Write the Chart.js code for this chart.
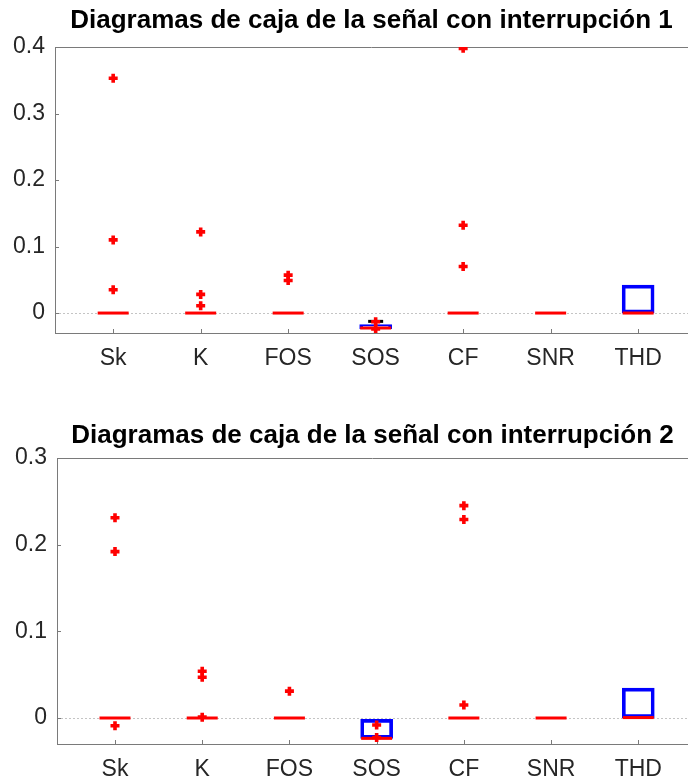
<!DOCTYPE html>
<html>
<head>
<meta charset="utf-8">
<script src="https://cdn.jsdelivr.net/npm/chart.js@4"></script>
<style>
  html, body { margin: 0; padding: 0; background: #fff; overflow: hidden; }
  .panel { position: absolute; left: 0; width: 688px; }
</style>
</head>
<body>
<div class="panel" style="top:0; height:385px;"><canvas id="box1" width="688" height="385"></canvas></div>
<div class="panel" style="top:395px; height:383px;"><canvas id="box2" width="688" height="383"></canvas></div>
<script>
// --- Boxplot data ---
const categories = ['Sk', 'K', 'FOS', 'SOS', 'CF', 'SNR', 'THD'];

// Señal con interrupción 1
const q1Int1 = [0, 0, 0, -0.0235, 0, 0, 0];
const q3Int1 = [0, 0, 0, -0.0175, 0, 0, 0.042];
const medianInt1 = [0, 0, 0, -0.0225, 0, 0, 0];
const capInt1 = [null, null, null, -0.0125, null, null, null];
const outliersInt1 = [
    [0.353, 0.110, 0.035],
    [0.122, 0.028, 0.011],
    [0.057, 0.049],
    [-0.013, -0.024],
    [0.398, 0.132, 0.070],
    [],
    []
];
const yTicksInt1 = [0, 0.1, 0.2, 0.3, 0.4];

// Señal con interrupción 2
const q1Int2 = [0, 0, 0, -0.0235, 0, 0, 0.0005];
const q3Int2 = [0, 0, 0, -0.0015, 0, 0, 0.0345];
const medianInt2 = [0, 0, 0, -0.0235, 0, 0, 0.0005];
const capInt2 = [null, null, null, null, null, null, null];
const outliersInt2 = [
    [0.231, 0.192, -0.009],
    [0.054, 0.047, 0.001],
    [0.031],
    [-0.008, -0.0225],
    [0.245, 0.229, 0.015],
    [],
    []
];
const yTicksInt2 = [0, 0.1, 0.2, 0.3];

const FONT = "'Liberation Sans', Arial, Helvetica, sans-serif";
const AXIS_COLOR = '#7a7a7a';

// Draws the top frame line, the dotted zero line and the inner tick marks
const framePlugin = {
    id: 'frame',
    beforeDatasetsDraw(chart) {
        const { ctx, chartArea: a, scales: { x, y } } = chart;
        ctx.save();
        // dotted line at y = 0
        const y0 = Math.round(y.getPixelForValue(0)) + 0.5;
        ctx.strokeStyle = '#c4c4c4';
        ctx.lineWidth = 1;
        ctx.setLineDash([2, 2]);
        ctx.beginPath();
        ctx.moveTo(a.left, y0);
        ctx.lineTo(a.right, y0);
        ctx.stroke();
        ctx.setLineDash([]);
        // top border
        ctx.strokeStyle = AXIS_COLOR;
        ctx.beginPath();
        ctx.moveTo(a.left, a.top + 0.5);
        ctx.lineTo(a.right, a.top + 0.5);
        ctx.stroke();
        // inner ticks
        ctx.beginPath();
        y.ticks.forEach(t => {
            const py = Math.round(y.getPixelForValue(t.value)) + 0.5;
            ctx.moveTo(a.left, py);
            ctx.lineTo(a.left + 4, py);
        });
        x.ticks.forEach(t => {
            const px = Math.round(x.getPixelForValue(t.value)) + 0.5;
            ctx.moveTo(px, a.bottom);
            ctx.lineTo(px, a.bottom - 4);
        });
        ctx.stroke();
        ctx.restore();
    }
};

function makeBoxplot(canvasId, opts) {
    const idx = categories.map((c, i) => i + 1);

    const boxData = idx.map((xv, i) => ({ x: xv, y: [opts.q1[i], opts.q3[i]] }));
    const medData = idx.map((xv, i) => ({ x: xv, y: opts.median[i] }));
    const capData = idx.map((xv, i) => ({ x: xv, y: opts.caps[i] })).filter(p => p.y !== null);
    const outData = [];
    opts.outliers.forEach((vals, i) => vals.forEach(v => outData.push({ x: i + 1, y: v })));

    return new Chart(document.getElementById(canvasId), {
        type: 'bar',
        data: {
            datasets: [
                {
                    type: 'scatter',
                    data: outData,
                    pointStyle: 'cross',
                    radius: 4.5,
                    borderWidth: 3.6,
                    borderColor: '#ff0000',
                    backgroundColor: '#ff0000',
                    order: 0
                },
                {
                    type: 'scatter',
                    data: medData,
                    pointStyle: 'line',
                    radius: 15.5,
                    borderWidth: 3,
                    borderColor: '#ff0000',
                    order: 1
                },
                {
                    type: 'scatter',
                    data: capData,
                    pointStyle: 'line',
                    radius: 7.5,
                    borderWidth: 3,
                    borderColor: '#000000',
                    order: 2
                },
                {
                    type: 'bar',
                    data: boxData,
                    backgroundColor: 'rgba(0,0,0,0)',
                    borderColor: '#0000ff',
                    borderWidth: 3,
                    borderSkipped: false,
                    barThickness: 32,
                    order: 3
                }
            ]
        },
        options: {
            responsive: false,
            animation: false,
            events: [],
            layout: { padding: 0, autoPadding: false },
            plugins: {
                legend: { display: false },
                tooltip: { enabled: false },
                title: {
                    display: true,
                    text: opts.title,
                    fullSize: false,
                    color: '#000',
                    font: { family: FONT, size: 26, weight: 'bold', lineHeight: 1.2 },
                    padding: opts.titlePadding
                }
            },
            scales: {
                x: {
                    type: 'linear',
                    offset: false,
                    min: 0.335,
                    max: 7.57,
                    afterBuildTicks: s => { s.ticks = idx.map(v => ({ value: v })); },
                    afterFit: s => {
                        s.height = opts.xAxisHeight;
                        s.paddingLeft = 0;
                        s.paddingRight = 0;
                    },
                    grid: { display: false, drawTicks: false, offset: false },
                    border: { display: true, color: AXIS_COLOR, width: 1 },
                    ticks: {
                        callback: v => categories[v - 1],
                        color: '#262626',
                        font: { family: FONT, size: 23 },
                        padding: 12,
                        maxRotation: 0,
                        autoSkip: false
                    }
                },
                y: {
                    type: 'linear',
                    min: -0.03,
                    max: opts.yTicks[opts.yTicks.length - 1],
                    afterBuildTicks: s => { s.ticks = opts.yTicks.map(v => ({ value: v })); },
                    afterFit: s => { s.width = opts.yAxisWidth; },
                    grid: { display: false, drawTicks: false },
                    border: { display: true, color: AXIS_COLOR, width: 1 },
                    ticks: {
                        callback: v => (v === 0 ? '0' : v.toFixed(1)),
                        color: '#262626',
                        font: { family: FONT, size: 23 },
                        padding: 10
                    }
                }
            }
        },
        plugins: [framePlugin]
    });
}

makeBoxplot('box1', {
    title: 'Diagramas de caja de la señal con interrupción 1',
    q1: q1Int1, q3: q3Int1, median: medianInt1, caps: capInt1, outliers: outliersInt1,
    yTicks: yTicksInt1,
    titlePadding: { top: 5.4, bottom: 10.4 },
    yAxisWidth: 55,
    xAxisHeight: 385 - 333
});

makeBoxplot('box2', {
    title: 'Diagramas de caja de la señal con interrupción 2',
    q1: q1Int2, q3: q3Int2, median: medianInt2, caps: capInt2, outliers: outliersInt2,
    yTicks: yTicksInt2,
    titlePadding: { top: 25.4, bottom: 6.4 },
    yAxisWidth: 57,
    xAxisHeight: 383 - 349
});
</script>
</body>
</html>
